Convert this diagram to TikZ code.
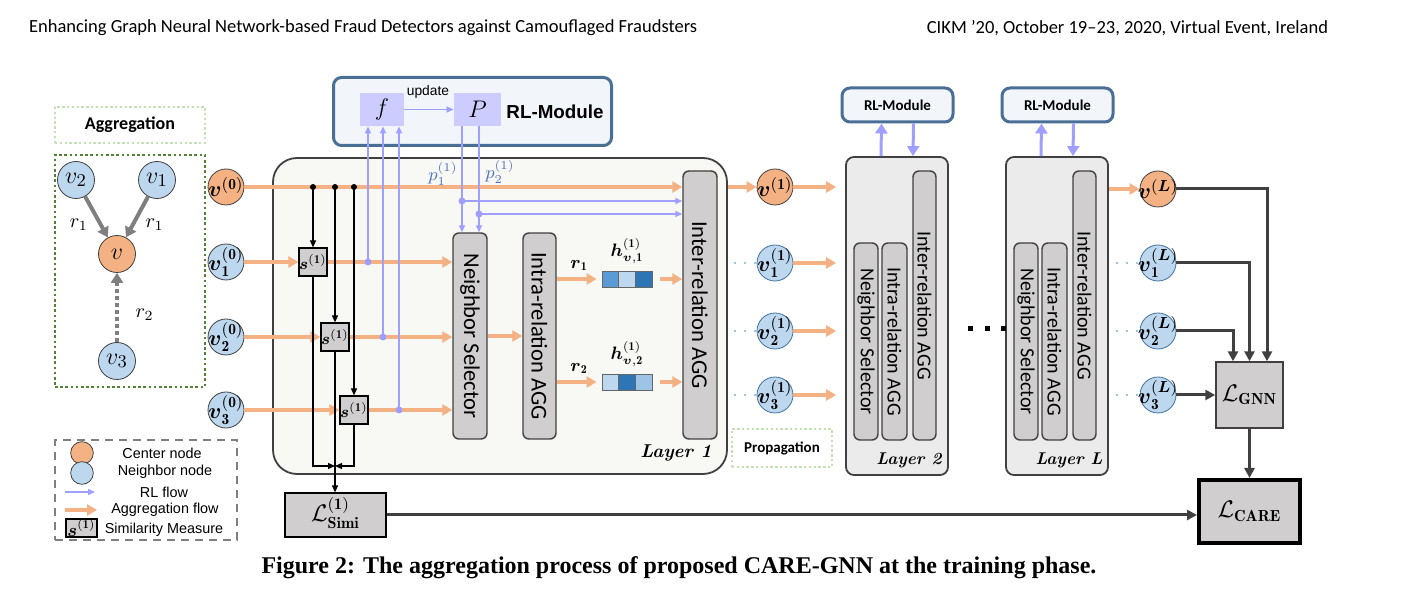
\documentclass[tikz,border=0pt]{standalone}
\usepackage{amsmath}
\usepackage{amssymb}
\usepackage{fontspec}
\usepackage{graphicx}
\usetikzlibrary{arrows.meta,calc,positioning}

\newfontfamily\calfont{Carlito}
\newfontfamily\arifont{Liberation Sans}
\newfontfamily\capfont{Liberation Serif}

\definecolor{aggorange}{HTML}{F4B183}
\definecolor{nbblue}{HTML}{BDD7EE}
\definecolor{nbborder}{HTML}{41719C}
\definecolor{boxgray}{HTML}{D0CECE}
\definecolor{layergray}{HTML}{EBEBEB}
\definecolor{layerone}{HTML}{F8F9F4}
\definecolor{rlpurple}{HTML}{9F9FFF}
\definecolor{fpfill}{HTML}{CCCCFF}
\definecolor{rlborder}{HTML}{4A6F95}
\definecolor{rlfill}{HTML}{F2F6FA}
\definecolor{darkline}{HTML}{404040}
\definecolor{lightgreen}{HTML}{C5E0B4}
\definecolor{darkgreen}{HTML}{548235}
\definecolor{embmid}{HTML}{5B9BD5}
\definecolor{embdark}{HTML}{2E75B6}
\definecolor{emblm}{HTML}{9DC3E6}
\definecolor{plabblue}{HTML}{4F6FBF}
\definecolor{agggray}{HTML}{7F7F7F}

\newcommand{\bfv}{\boldsymbol{v}}

\tikzset{
  cnode/.style={circle, draw=black!75, fill=aggorange, minimum size=18pt, inner sep=-4pt, font=\fontsize{11}{12}\selectfont},
  nnode/.style={cnode, fill=nbblue, draw=nbborder},
  simbox/.style={draw=black, fill=boxgray, line width=0.6pt, inner sep=0pt, minimum size=14pt, font=\fontsize{8}{9}\selectfont},
  selbox/.style={draw=darkline, fill=boxgray, rounded corners=3pt, line width=0.7pt, inner sep=0pt},
  layerbox/.style={draw=darkline, fill=layergray, rounded corners=4pt, line width=0.9pt, minimum width=51pt, minimum height=159pt},
  layerlab/.style={font=\bfseries\itshape\fontsize{8.5}{10}\selectfont},
  rlmodbox/.style={draw=rlborder, fill=rlfill, rounded corners=4pt, line width=1.5pt, inner sep=0pt},
  fpbox/.style={fill=fpfill, minimum height=16.5pt, inner sep=0pt, font=\fontsize{12}{14}\selectfont},
  cell/.style={draw=black!60, line width=0.4pt, minimum width=8.35pt, minimum height=8pt, inner sep=0pt},
  lossbox/.style={draw=darkline, fill=boxgray, line width=0.7pt, inner sep=0pt, font=\fontsize{12}{14}\selectfont},
  lgbox/.style={draw=lightgreen, line width=1.2pt, dash pattern=on 1.2pt off 1.2pt},
  dgbox/.style={draw=darkgreen, line width=1.3pt, dash pattern=on 1.3pt off 1.3pt},
  legbox/.style={draw=black!50, line width=1.2pt, dash pattern=on 4pt off 3pt},
  legtext/.style={font=\arifont\fontsize{7.2}{8.5}\selectfont},
  aggflow/.style={draw=aggorange, line width=1.6pt, -{Triangle[length=5pt,width=5.5pt]}},
  rlflow/.style={draw=rlpurple, line width=0.7pt, -{Triangle[length=3.5pt,width=3pt]}},
  rlthick/.style={draw=rlpurple, line width=1.5pt, -{Triangle[length=5pt,width=6pt]}},
  simflow/.style={draw=black, line width=0.6pt, -{Triangle[length=3.5pt,width=3pt]}},
  lossflow/.style={draw=darkline, line width=1.5pt, -{Triangle[length=5pt,width=5pt]}},
  grayflow/.style={draw=agggray, line width=2pt, -{Triangle[length=5pt,width=6pt]}},
  dotblue/.style={draw=emblm, line width=1.2pt, dash pattern=on 1.2pt off 3.8pt},
  plab/.style={text=plabblue, font=\fontsize{9}{11}\selectfont},
}

\begin{document}
\begin{tikzpicture}[x=0.5pt,y=-0.5pt]
\useasboundingbox (0,0) rectangle (1403,608);

% header and caption
\node[anchor=west, font=\calfont\fontsize{9.25}{11}\selectfont] (headl) at (22,28) {Enhancing Graph Neural Network-based Fraud Detectors against Camouflaged Fraudsters};
\node[anchor=east, font=\calfont\fontsize{9.25}{11}\selectfont] (headr) at (1335,28) {CIKM ’20, October 19–23, 2020, Virtual Event, Ireland};
\node[font=\capfont\bfseries\fontsize{12}{14}\selectfont] (caption) at (679,568) {Figure 2: The aggregation process of proposed CARE-GNN at the training phase.};

% aggregation panel
\node[lgbox, minimum width=75pt, minimum height=18pt, font=\calfont\bfseries\fontsize{9}{11}\selectfont] (aggtitle) at (130,125) {Aggregation};
\node[dgbox, minimum width=75pt, minimum height=116pt] (aggframe) at (130,271) {};
\node[nnode, draw=black!75, minimum size=18.5pt, font=\fontsize{13}{15}\selectfont] (ag2) at (76,180) {$v_2$};
\node[nnode, draw=black!75, minimum size=18.5pt, font=\fontsize{13}{15}\selectfont] (ag1) at (157,180) {$v_1$};
\node[cnode, minimum size=18.5pt, font=\fontsize{13}{15}\selectfont] (agc) at (117,254) {$v$};
\node[nnode, draw=black!75, minimum size=18.5pt, font=\fontsize{13}{15}\selectfont] (ag3) at (117,361) {$v_3$};
\draw[grayflow] (ag2) -- (agc) node[pos=0.68, left=2pt] (agr1) {$r_1$};
\draw[grayflow] (ag1) -- (agc) node[pos=0.68, right=2pt] (agr2) {$r_1$};
\draw[grayflow, dash pattern=on 2pt off 1.5pt] (ag3) -- (agc) node[pos=0.4, right=5pt] (agr3) {$r_2$};

% legend
\node[legbox, minimum width=91pt, minimum height=50pt] (legend) at (146,490) {};
\node[cnode, minimum size=7.5pt] (legc) at (82,453) {};
\node[legtext] (legct) at (162,453) {Center node};
\node[nnode, draw=black!75, minimum size=7.5pt] (legn) at (82,473) {};
\node[legtext] (legnt) at (165,472) {Neighbor node};
\coordinate (legrla) at (65,492);
\coordinate (legrlb) at (95,492);
\draw[rlflow] (legrla) -- (legrlb);
\node[legtext] (legrlt) at (164,492) {RL flow};
\coordinate (legaga) at (65,510);
\coordinate (legagb) at (97,510);
\draw[aggflow] (legaga) -- (legagb);
\node[legtext] (legagt) at (165,510) {Aggregation flow};
\node[simbox, minimum width=15.5pt, minimum height=9pt, font=\fontsize{9}{10}\selectfont] (legs) at (81.5,528) {$\boldsymbol{s}^{(\mathbf{1})}$};
\node[legtext] (legst) at (164,530) {Similarity Measure};

% layer 1
\node[draw=darkline, fill=layerone, rounded corners=12pt, line width=0.9pt, minimum width=227pt, minimum height=158pt] (layer1) at (500,316) {};
\node[layerlab, font=\bfseries\itshape\fontsize{9.3}{11}\selectfont] (lab1) at (676,453) {Layer 1};

% RL module of layer 1
\node[rlmodbox, minimum width=139pt, minimum height=34pt] (rlmod1) at (472.5,111.5) {};
\node[font=\arifont\bfseries\fontsize{9.4}{11}\selectfont] (rltitle) at (555,112) {RL-Module};
\node[fpbox, minimum width=22pt] (fbox) at (382,109.5) {$f$};
\node[fpbox, minimum width=23.5pt] (pbox) at (477.5,109.5) {$P$};
\draw[rlflow] (fbox) -- (pbox);
\node[font=\arifont\fontsize{6.9}{8}\selectfont] (updlab) at (428,92) {update};

\node[cnode] (v0) at (226,187) {$\bfv^{(\mathbf{0})}$};
\foreach \i/\y in {1/262,2/337,3/410}
  \node[nnode, draw=black!75] (v0\i) at (226,\y) {$\bfv_{\mathbf{\i}}^{(\mathbf{0})}$};
\foreach \i/\x/\y in {1/313/262,2/335/337,3/354/410}
  \node[simbox] (sim\i) at (\x,\y) {$\boldsymbol{s}^{(\mathbf{1})}$};

\node[selbox, minimum width=17pt, minimum height=103pt, font=\calfont\fontsize{11.3}{13}\selectfont] (ns1) at (470,336) {\rotatebox{-90}{Neighbor Selector}};
\node[selbox, minimum width=16.5pt, minimum height=103pt, font=\calfont\fontsize{11.3}{13}\selectfont] (ia1) at (539.5,336) {\rotatebox{-90}{Intra-relation AGG}};
\node[selbox, minimum width=17pt, minimum height=134pt, font=\calfont\fontsize{11.3}{13}\selectfont] (ir1) at (700,305) {\rotatebox{-90}{Inter-relation AGG}};

% aggregation flow in layer 1
\draw[aggflow] (v0) -- (v0 -| ir1.west);
\foreach \i in {1,2,3} {
  \draw[aggflow] (v0\i) -- (sim\i);
  \draw[aggflow] (sim\i) -- (sim\i -| ns1.west);
}
\draw[aggflow] (ns1.east |- ia1) -- (ia1.west);

% similarity measure
\foreach \i in {1,2,3} {
  \fill (sim\i |- v0) circle (1.5pt);
  \draw[simflow] (sim\i |- v0) -- (sim\i.north);
}
\coordinate (simjoin) at (335,466);
\node[simbox, minimum width=50.5pt, minimum height=22pt, font=\fontsize{11.5}{13}\selectfont] (simi) at (335.5,515) {$\mathcal{L}^{(\mathbf{1})}_{\mathbf{Simi}\vphantom{(}}$};
\draw[simflow] (sim1.south) |- (simjoin);
\draw[simflow] (sim3.south) |- (simjoin);
\draw[simflow] (sim2.south) -- (sim2.south |- simi.north);

% RL flow
\foreach \i/\x/\y in {1/368/262,2/383/337,3/399/410} {
  \coordinate (rd\i) at (\x,\y);
  \draw[rlflow] (rd\i) -- (rd\i |- fbox.south);
  \fill[rlpurple] (rd\i) circle (1.75pt);
}
\foreach \i/\x/\y in {1/462/201,2/479/214} {
  \coordinate (pd\i) at (\x,\y);
  \draw[rlflow] (pd\i |- pbox.south) -- (pd\i |- ns1.north);
  \fill[rlpurple] (pd\i) circle (1.75pt);
  \draw[rlflow] (pd\i) -- (pd\i -| ir1.west);
}
\node[plab] (p1lab) at (443,174) {$p^{(1)}_1$};
\node[plab] (p2lab) at (500,172) {$p^{(1)}_2$};

% relation embeddings
\foreach \i/\y/\ca/\cb/\cc in {1/279/embmid/nbblue/embdark,2/382/nbblue/embdark/emblm} {
  \node[cell, fill=\ca] (ha\i) at (610.3,\y) {};
  \node[cell, fill=\cb] (hb\i) at (627,\y) {};
  \node[cell, fill=\cc] (hc\i) at (643.7,\y) {};
  \node[above=0pt of hb\i, font=\fontsize{9}{11}\selectfont] (hl\i) {$\boldsymbol{h}^{(\mathbf{1})}_{\bfv,\mathbf{\i}}$};
  \draw[aggflow, shorten >=2.5pt] (ia1.east |- ha\i) -- (ha\i.west) node[midway, above=0pt, font=\fontsize{9}{11}\selectfont] (rl\i) {$\boldsymbol{r}_{\mathbf{\i}}$};
  \draw[aggflow, shorten <=4pt] (hc\i.east) -- (hc\i.east -| ir1.west);
}

% propagation
\node[cnode] (v1c) at (775,187) {$\bfv^{(\mathbf{1})}$};
\foreach \i/\y in {1/263,2/331,3/395}
  \node[nnode] (v1\i) at (775,\y) {$\bfv_{\mathbf{\i}}^{(\mathbf{1})}$};
\draw[aggflow] (layer1.east |- v1c) -- (v1c.west);
\foreach \i in {1,2,3}
  \draw[dotblue, shorten <=3pt] (layer1.east |- v1\i) -- (v1\i.west);
\node[lgbox, minimum width=50pt, minimum height=19pt, font=\calfont\bfseries\fontsize{7.5}{9}\selectfont] (prop) at (782,448) {Propagation};

% layer 2 and layer L
\foreach \lx/\ln in {0/2,160/L} {
  \node[layerbox] (layer\ln) at (897+\lx,316) {};
  \node[selbox, minimum width=12pt, minimum height=98.5pt, font=\calfont\fontsize{10}{12}\selectfont] (ns\ln) at (866+\lx,341.5) {\rotatebox{-90}{Neighbor Selector}};
  \node[selbox, minimum width=12.5pt, minimum height=98.5pt, font=\calfont\fontsize{10}{12}\selectfont] (ia\ln) at (894.5+\lx,341.5) {\rotatebox{-90}{Intra-relation AGG}};
  \node[selbox, minimum width=11.5pt, minimum height=134.5pt, font=\calfont\fontsize{10}{12}\selectfont] (ir\ln) at (924.5+\lx,305.5) {\rotatebox{-90}{Inter-relation AGG}};
  \node[layerlab] (lab\ln) at (909+\lx,460) {Layer \ln};
  \node[rlmodbox, minimum width=55.5pt, minimum height=17pt, font=\calfont\bfseries\fontsize{7.5}{9}\selectfont] (rl\ln) at (897.5+\lx,105) {RL-Module};
  \draw[rlthick] ([xshift=-8pt]layer\ln.north) -- ([xshift=-8pt]rl\ln.south);
  \draw[rlthick] ([xshift=8pt]rl\ln.south) -- ([xshift=8pt]layer\ln.north);
}
\draw[aggflow, shorten >=4.5pt] (v1c) -- (v1c -| layer2.west);
\foreach \i in {1,2,3}
  \draw[aggflow, shorten >=4.5pt] (v1\i) -- (v1\i -| layer2.west);
\foreach \x in {970,987,1003}
  \fill (\x-2.5,326.5) rectangle (\x+2.5,331.5);

% output of layer L and losses
\node[cnode] (vL) at (1158,189) {$\bfv^{(\boldsymbol{L})}$};
\foreach \i/\y in {1/263,2/331,3/395}
  \node[nnode] (vL\i) at (1158,\y) {$\bfv_{\mathbf{\i}}^{(\boldsymbol{L})}$};
\draw[aggflow] (layerL.east |- vL) -- (vL.west);
\foreach \i in {1,2,3}
  \draw[dotblue, shorten <=3.5pt] (layerL.east |- vL\i) -- (vL\i.west);

\node[lossbox, minimum width=33.5pt, minimum height=33pt] (gnn) at (1249.5,395) {$\mathcal{L}_{\mathbf{GNN}}$};
\node[lossbox, draw=black, line width=2pt, minimum width=50.5pt, minimum height=31.5pt] (care) at (1249.5,511.5) {$\mathcal{L}_{\mathbf{CARE}}$};
\draw[lossflow] (vL.east) -| ([xshift=8.75pt]gnn.north);
\draw[lossflow] (vL1.east) -| (gnn.north);
\draw[lossflow] (vL2.east) -| ([xshift=-8.25pt]gnn.north);
\draw[lossflow] (vL3.east) -- (gnn.west);
\draw[lossflow] (gnn.south) -- (care.north);
\draw[lossflow] (simi.east) -- (simi.east -| care.west);
\end{tikzpicture}
\end{document}
